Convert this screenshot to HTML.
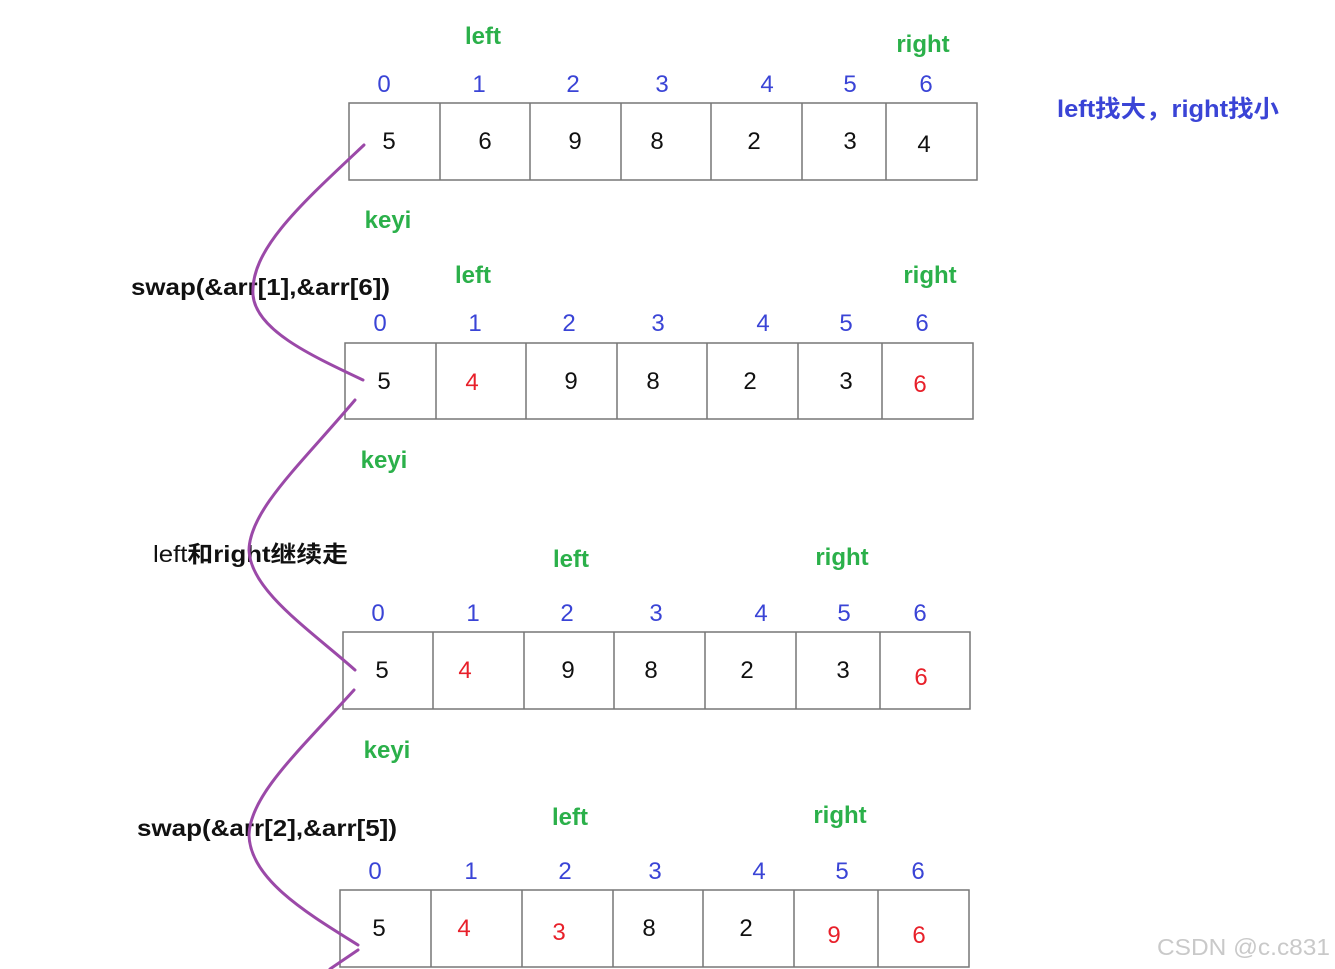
<!DOCTYPE html>
<html><head><meta charset="utf-8"><style>
html,body{margin:0;padding:0;background:#fff;}
svg{display:block}
text{font-family:"Liberation Sans","Noto Sans CJK SC",sans-serif;}
.i{fill:#3a44d6;font-size:24px;text-anchor:middle}
.n{fill:#111;font-size:24px;text-anchor:middle}
.r{fill:#e8202a;font-size:24px;text-anchor:middle}
.g{fill:#2bb04a;font-size:24px;font-weight:bold;text-anchor:middle}
.b{fill:#111;font-size:23px;font-weight:bold}
.cell{fill:none;stroke:#777;stroke-width:1.5}
</style></head><body>
<svg width="1335" height="969" viewBox="0 0 1335 969" xmlns="http://www.w3.org/2000/svg">
<!-- Row 1 -->
<text class="g" x="483" y="44">left</text>
<text class="g" x="923" y="52">right</text>
<g class="i"><text x="384" y="92">0</text><text x="479" y="92">1</text><text x="573" y="92">2</text><text x="662" y="92">3</text><text x="767" y="92">4</text><text x="850" y="92">5</text><text x="926" y="92">6</text></g>
<rect class="cell" x="349" y="103" width="628" height="77"/>
<path class="cell" d="M440 103V180M530 103V180M621 103V180M711 103V180M802 103V180M886 103V180"/>
<g class="n"><text x="389" y="149">5</text><text x="485" y="149">6</text><text x="575" y="149">9</text><text x="657" y="149">8</text><text x="754" y="149">2</text><text x="850" y="149">3</text><text x="924" y="152">4</text></g>
<text x="1057" y="117" textLength="222" lengthAdjust="spacingAndGlyphs" style="fill:#3a44d6;font-size:24px;font-weight:bold">left找大，right找小</text>
<text class="g" x="388" y="228">keyi</text>
<!-- Row 2 -->
<text class="b" x="131" y="295" textLength="259" lengthAdjust="spacingAndGlyphs">swap(&amp;arr[1],&amp;arr[6])</text>
<text class="g" x="473" y="283">left</text>
<text class="g" x="930" y="283">right</text>
<g class="i"><text x="380" y="331">0</text><text x="475" y="331">1</text><text x="569" y="331">2</text><text x="658" y="331">3</text><text x="763" y="331">4</text><text x="846" y="331">5</text><text x="922" y="331">6</text></g>
<rect class="cell" x="345" y="343" width="628" height="76"/>
<path class="cell" d="M436 343V419M526 343V419M617 343V419M707 343V419M798 343V419M882 343V419"/>
<g class="n"><text x="384" y="389">5</text><text class="r" x="472" y="390">4</text><text x="571" y="389">9</text><text x="653" y="389">8</text><text x="750" y="389">2</text><text x="846" y="389">3</text><text class="r" x="920" y="392">6</text></g>
<text class="g" x="384" y="468">keyi</text>
<!-- Row 3 -->
<text x="153" y="562" textLength="195" lengthAdjust="spacingAndGlyphs" style="fill:#111;font-size:23px">left<tspan font-weight="bold">和right继续走</tspan></text>
<text class="g" x="571" y="567">left</text>
<text class="g" x="842" y="565">right</text>
<g class="i"><text x="378" y="621">0</text><text x="473" y="621">1</text><text x="567" y="621">2</text><text x="656" y="621">3</text><text x="761" y="621">4</text><text x="844" y="621">5</text><text x="920" y="621">6</text></g>
<rect class="cell" x="343" y="632" width="627" height="77"/>
<path class="cell" d="M433 632V709M524 632V709M614 632V709M705 632V709M796 632V709M880 632V709"/>
<g class="n"><text x="382" y="678">5</text><text class="r" x="465" y="678">4</text><text x="568" y="678">9</text><text x="651" y="678">8</text><text x="747" y="678">2</text><text x="843" y="678">3</text><text class="r" x="921" y="685">6</text></g>
<text class="g" x="387" y="758">keyi</text>
<!-- Row 4 -->
<text class="b" x="137" y="836" textLength="260" lengthAdjust="spacingAndGlyphs">swap(&amp;arr[2],&amp;arr[5])</text>
<text class="g" x="570" y="825">left</text>
<text class="g" x="840" y="823">right</text>
<g class="i"><text x="375" y="879">0</text><text x="471" y="879">1</text><text x="565" y="879">2</text><text x="655" y="879">3</text><text x="759" y="879">4</text><text x="842" y="879">5</text><text x="918" y="879">6</text></g>
<rect class="cell" x="340" y="890" width="629" height="77"/>
<path class="cell" d="M431 890V967M522 890V967M613 890V967M703 890V967M794 890V967M878 890V967"/>
<g class="n"><text x="379" y="936">5</text><text class="r" x="464" y="936">4</text><text class="r" x="559" y="940">3</text><text x="649" y="936">8</text><text x="746" y="936">2</text><text class="r" x="834" y="943">9</text><text class="r" x="919" y="943">6</text></g>
<text x="1157" y="955" textLength="173" lengthAdjust="spacingAndGlyphs" style="fill:#c9c9c9;font-size:23px">CSDN @c.c831</text>
<!-- curves -->
<g fill="none" stroke="#9b49a8" stroke-width="3" stroke-linecap="round">
<path d="M364 145C300 205 250 250 253 295C256 330 310 355 363 380"/>
<path d="M355 400C300 465 250 510 249 550C250 590 310 630 355 670"/>
<path d="M354 690C300 750 250 795 249 835C250 880 310 915 358 945"/>
<path d="M358 950L330 969"/>
</g>
</svg>
</body></html>
